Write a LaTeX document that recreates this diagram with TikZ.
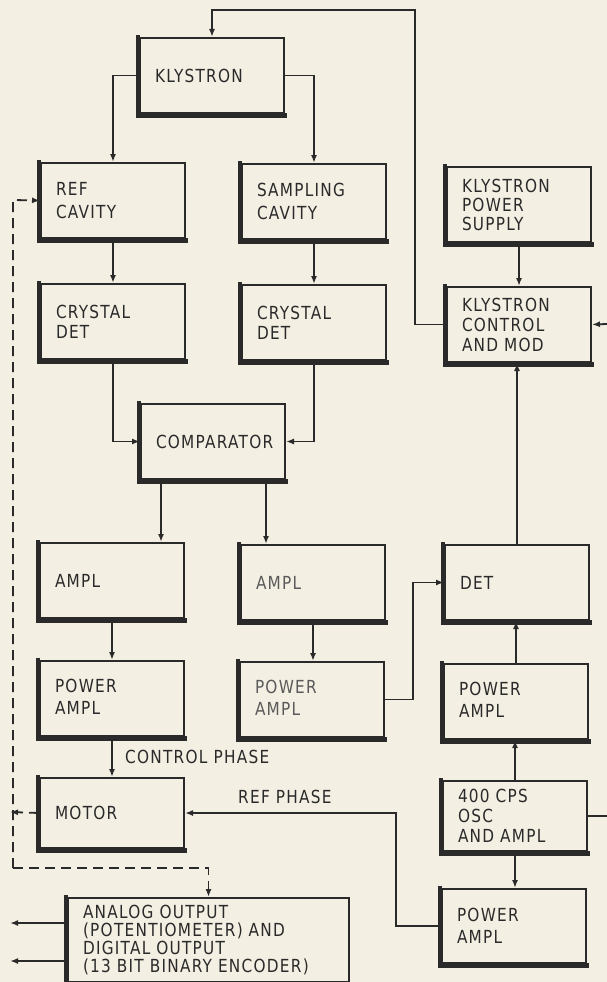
\documentclass[tikz,border=0pt]{standalone}
\usepackage{fontspec}
\setmainfont{DejaVu Sans}[FakeStretch=0.85,LetterSpace=7]
\usetikzlibrary{arrows.meta}
\definecolor{paper}{HTML}{F4EFE3}
\definecolor{ink}{HTML}{2A2A2A}
\definecolor{inklight}{HTML}{5A5A5A}
\begin{document}
\begin{tikzpicture}[x=1pt,y=-1pt,
  blk/.style={draw=ink,line width=2pt,rectangle,anchor=north west,inner xsep=15pt,inner ysep=3pt,
    align=left,text width=114pt,minimum height=75pt,text=ink,font=\fontsize{18}{20}\selectfont},
  sp23/.style={font=\fontsize{18}{23}\selectfont},
  sp19/.style={font=\fontsize{18}{19}\selectfont},
  sp22/.style={font=\fontsize{18}{22}\selectfont},
  sp18/.style={font=\fontsize{18}{18}\selectfont},
  shade/.style={draw=ink,line width=4.4pt,line cap=rect,line join=miter},
  conn/.style={draw=ink,line width=1.8pt},
  arr/.style={conn,-{Latex[length=8pt,width=6pt]}},
  dashline/.style={conn,dash pattern=on 10pt off 6pt},
  lbl/.style={font=\fontsize{18}{20}\selectfont,text=ink,anchor=west,inner sep=0pt}
]
\fill[paper] (0,0) rectangle (607,982);
\useasboundingbox (0,0) rectangle (607,982);

% boxes
\node[blk] (kly) at (139,37) {KLYSTRON};
\node[blk,sp23] (ref) at (40,162) {REF\\CAVITY};
\node[blk,sp23] (samp) at (241,163) {SAMPLING\\CAVITY};
\node[blk,sp19] (kps) at (446,166) {KLYSTRON\\POWER\\SUPPLY};
\node[blk] (cdl) at (40,283) {CRYSTAL\\DET};
\node[blk] (cdr) at (241,284) {CRYSTAL\\DET};
\node[blk] (kc) at (446,286) {KLYSTRON\\CONTROL\\AND MOD};
\node[blk] (comp) at (140,403) {COMPARATOR};
\node[blk] (amp1) at (39,542) {AMPL};
\node[blk,text=inklight] (amp2) at (240,544) {AMPL};
\node[blk] (det) at (444,544) {DET};
\node[blk,sp22] (pa1) at (39,660) {POWER\\AMPL\vphantom{y}\\[-6pt]};
\node[blk,sp22,text=inklight] (pa2) at (239,661) {POWER\\AMPL\vphantom{y}\\[-6pt]};
\node[blk,sp22] (pa3) at (443,663) {POWER\\AMPL\vphantom{y}\\[-6pt]};
\node[blk,minimum height=70pt] (motor) at (39,777) {MOTOR};
\node[blk,minimum height=70pt] (osc) at (442,780) {400 CPS\\OSC\\AND AMPL};
\node[blk,sp22,minimum height=74pt] (pa4) at (441,888) {POWER\\AMPL};
\node[blk,sp18,text width=251pt,minimum height=84pt] (ana) at (67,897)
  {ANALOG OUTPUT\\(POTENTIOMETER) AND\\DIGITAL OUTPUT\\(13 BIT BINARY ENCODER)};

% shadow edges (thick left and bottom)
\foreach \n in {kly,ref,samp,kps,cdl,cdr,kc,comp,amp1,amp2,det,pa1,pa2,pa3,motor,osc,pa4,ana}
  \draw[shade] ([xshift=-1.3pt]\n.north west) -- ([xshift=-1.3pt,yshift=-1.3pt]\n.south west) -- ([yshift=-1.3pt]\n.south east);

% labels
\node[lbl] (cph) at (125,757) {CONTROL PHASE};
\node[lbl] (rph) at (238,797) {REF PHASE};

% coordinates for free ends
\coordinate (fbTop) at (415,10);
\coordinate (kcR) at (607,324);
\coordinate (oscR) at (607,815);
\coordinate (dT) at (13,200);
\coordinate (dB) at (13,868);
\coordinate (dJ) at (10,812);
\coordinate (aoA) at (10,923);
\coordinate (aoB) at (10,961);

% connectors
\draw[arr] (kc.west) -| (fbTop) -| (kly.north);
\draw[arr] (kly.west) -| (ref.north);
\draw[arr] (kly.east) -| (samp.north);
\draw[arr] (ref.south) -- (ref.south |- cdl.north);
\draw[arr] (samp.south) -- (samp.south |- cdr.north);
\draw[arr] (kps.south) -- (kps.south |- kc.north);
\draw[arr] (cdl.south) |- (comp.west);
\draw[arr] (cdr.south) |- (comp.east);
\draw[arr] ([xshift=-52pt]comp.south) -- ([xshift=-52pt]comp.south |- amp1.north);
\draw[arr] ([xshift=53pt]comp.south) -- ([xshift=53pt]comp.south |- amp2.north);
\draw[arr] (amp1.south) -- (amp1.south |- pa1.north);
\draw[arr] (amp2.south) -- (amp2.south |- pa2.north);
\draw[arr] (pa1.south) -- (pa1.south |- motor.north);
\draw[arr] (pa2.east) -- ++(28,0) |- (det.west);
\draw[arr] (det.north) -- (det.north |- kc.south);
\draw[arr] (pa3.north) -- (pa3.north |- det.south);
\draw[arr] (osc.north) -- (osc.north |- pa3.south);
\draw[arr] (osc.south) -- (osc.south |- pa4.north);
\draw[arr] (pa4.west) -- ++(-45,0) |- (motor.east);
\draw[conn] (osc.east) -- (osc.east -| oscR);
\draw[arr] (kcR) -- (kc.east);
\draw[arr] (ana.west |- aoA) -- (aoA);
\draw[arr] (ana.west |- aoB) -- (aoB);

% dashed mechanical links
\draw[dashline,arr] (dB) -- (dT) -- (ref.west);
\draw[dashline,arr] (dB) -| (ana.north);
\draw[dashline,arr] (motor.west) -- (dJ);
\end{tikzpicture}
\end{document}
